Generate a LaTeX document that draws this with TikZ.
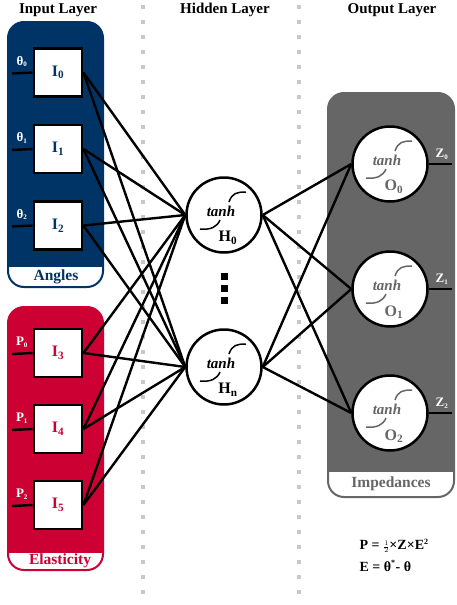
\documentclass[tikz,border=0pt]{standalone}
\usepackage{fontspec}
\setmainfont{Liberation Serif}
\usetikzlibrary{positioning}
\definecolor{angleblue}{RGB}{0,51,102}
\definecolor{elastred}{RGB}{204,0,51}
\definecolor{impgrey}{RGB}{102,102,102}
\definecolor{dotgrey}{RGB}{200,200,200}

\begin{document}
\begin{tikzpicture}[x=1pt,y=-1pt]
\tikzstyle{inbox} = [draw, fill=white, line width=2.8, minimum width=48, minimum height=48, inner sep=0]
\tikzstyle{neuron} = [draw, circle, fill=white, line width=2.5, minimum size=75, inner sep=0]
\tikzstyle{conn} = [line width=2.4]
\tikzstyle{title} = [font=\bfseries\fontsize{15}{15}\selectfont]
\tikzstyle{grouplabel} = [font=\bfseries\fontsize{15.5}{15.5}\selectfont]
\tikzstyle{boxlabel} = [font=\bfseries\fontsize{16}{16}\selectfont]
\tikzstyle{stublabel} = [font=\bfseries\fontsize{13}{13}\selectfont, text=white]
\tikzstyle{gridline} = [dotgrey, line width=4, dash pattern=on 4 off 11]
\useasboundingbox (0,0) rectangle (457,605);

% titles and separators
\node[title] (tin) at (58,10) {Input Layer};
\node[title] (thid) at (225,10) {Hidden Layer};
\node[title] (tout) at (392,10) {Output Layer};
\draw[gridline] (143,5) -- (143,605);
\draw[gridline] (299,5) -- (299,605);

% group boxes
\foreach \col/\xa/\ya/\xb/\yb/\ys in {angleblue/8/22/103/287/267, elastred/8/307/103/570/553, impgrey/328/93/454/497/472}{
  \begin{scope}
    \path[clip, rounded corners=16] (\xa,\ya) rectangle (\xb,\yb);
    \fill[\col] (\xa,\ya) rectangle (\xb,\ys);
    \fill[white] (\xa,\ys) rectangle (\xb,\yb);
  \end{scope}
  \draw[\col, line width=2, rounded corners=16] (\xa,\ya) rectangle (\xb,\yb);
}
\node[grouplabel, text=angleblue] (angles) at (56,277) {Angles};
\node[grouplabel, text=elastred] (elast) at (60,561) {Elasticity};
\node[grouplabel, text=impgrey] (imped) at (391,484) {Impedances};

% input layer
\foreach \i/\y/\col/\sym/\k in {0/72.5/angleblue/θ/0, 1/149/angleblue/θ/1, 2/225.5/angleblue/θ/2, 3/353/elastred/P/0, 4/429/elastred/P/1, 5/505/elastred/P/2}{
  \node[inbox, boxlabel, text=\col] (I\i) at (58,\y) {I\textsubscript{\i}};
  \coordinate (in\i) at (12,\y+1);
  \draw[conn] (in\i) -- (I\i.west);
  \node[stublabel] (lin\i) at (22,\y-11) {\sym\textsubscript{\fontsize{7}{7}\selectfont\k}};
}

% neurons
\foreach \n/\x/\y/\lab/\col in {H0/224/215/H\textsubscript{0}/black, Hn/224/367/H\textsubscript{n}/black, O0/390/164/O\textsubscript{0}/impgrey, O1/390/289/O\textsubscript{1}/impgrey, O2/390/413/O\textsubscript{2}/impgrey}{
  \node[neuron] (\n) at (\x,\y) {};
  \node[font=\bfseries\itshape\fontsize{15}{15}\selectfont, text=\col] (t\n) at (\x-3,\y-4) {tanh};
  \node[boxlabel, text=\col] (l\n) at (\x+4,\y+23) {\lab};
  \draw[\col, line width=1.5] (\x+5,\y-13) .. controls (\x+8,\y-22) and (\x+13,\y-23) .. (\x+22,\y-23);
  \draw[\col, line width=1.5] (\x-24,\y+14) .. controls (\x-13,\y+15) and (\x-7,\y+12) .. (\x-4,\y+5);
}
\foreach \y in {276,288,300}
  \fill (220.5,\y-3.5) rectangle (227.5,\y+3.5);

% connections
\foreach \i in {0,...,5}
  \foreach \h in {H0,Hn}
    \draw[conn] (I\i.east) -- (\h.west);
\foreach \h in {H0,Hn}
  \foreach \o in {0,1,2}
    \draw[conn] (\h.east) -- (O\o.west);

% outputs
\foreach \o/\y in {0/164,1/289,2/413}{
  \coordinate (out\o) at (452,\y);
  \draw[conn] (O\o.east) -- (out\o);
  \node[stublabel] (lz\o) at (442,\y-10) {Z\textsubscript{\fontsize{7}{7}\selectfont\o}};
}

% formulas
\node[anchor=west, font=\bfseries\fontsize{14}{14}\selectfont] (fp) at (356,546) {P = $\scriptstyle\frac{1}{2}$×Z×E\textsuperscript{\fontsize{8}{8}\selectfont 2}};
\node[anchor=west, font=\bfseries\fontsize{14}{14}\selectfont] (fe) at (356,566) {E = θ\textsuperscript{\fontsize{8}{8}\selectfont *}- θ};
\end{tikzpicture}
\end{document}
